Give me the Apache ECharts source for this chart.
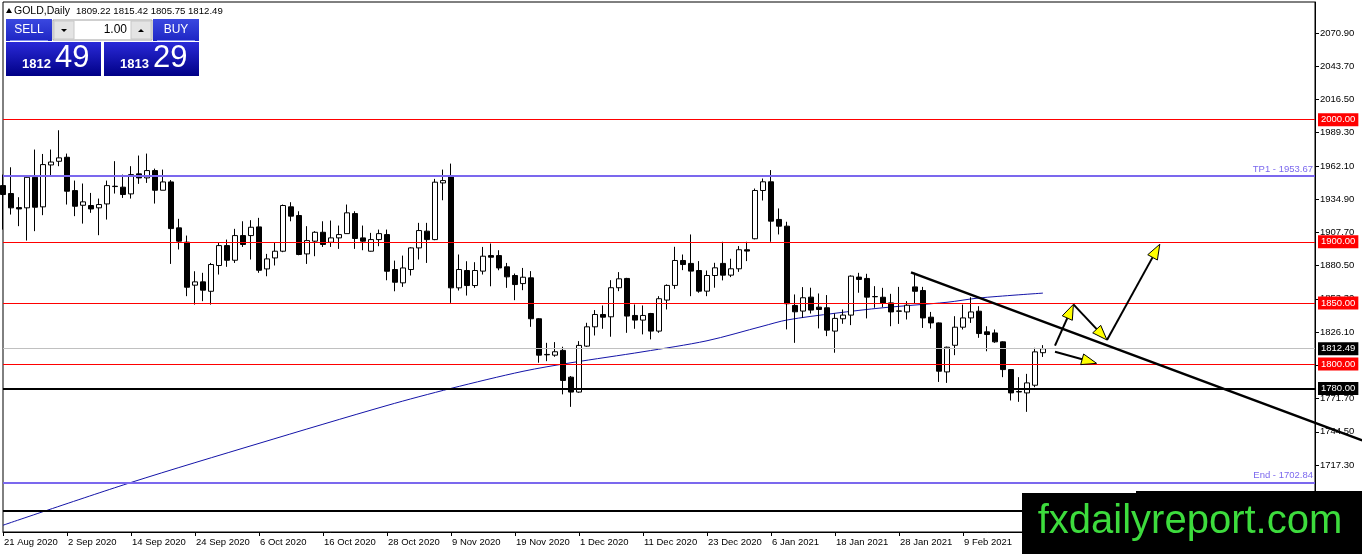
<!DOCTYPE html>
<html><head><meta charset="utf-8">
<script src="https://cdn.jsdelivr.net/npm/echarts@6/dist/echarts.min.js"></script>
<style>html,body{margin:0;padding:0;background:#fff}#c{width:1362px;height:554px}</style>
</head><body><div id="c"></div>
<script>
// ---- data ----
const tickLabels = ['21 Aug 2020','2 Sep 2020','14 Sep 2020','24 Sep 2020','6 Oct 2020','16 Oct 2020','28 Oct 2020','9 Nov 2020','19 Nov 2020','1 Dec 2020','11 Dec 2020','23 Dec 2020','6 Jan 2021','18 Jan 2021','28 Jan 2021','9 Feb 2021'];
const yTicks = [1717.3,1744.5,1771.7,1798.9,1826.1,1853.3,1880.5,1907.7,1934.9,1962.1,1989.3,2016.5,2043.7,2070.9];

const openP = [1946.0,1939.5,1928.0,1927.8,1952.8,1928.6,1962.9,1965.9,1969.2,1941.9,1929.9,1929.7,1927.8,1931.0,1945.5,1944.7,1939.2,1955.6,1952.3,1958.3,1942.2,1949.0,
1911.4,1899.7,1864.5,1867.2,1859.5,1880.6,1896.9,1884.9,1905.1,1905.1,1912.2,1877.8,1886.8,1892.3,1928.6,1921.5,1890.1,1900.5,1907.8,1899.6,1903.2,1906.7,
1923.1,1903.2,1892.3,1901.8,1905.9,1877.3,1866.4,1877.3,1895.0,1908.7,1901.8,1948.2,1953.1,1862.3,1876.5,1864.2,1876.0,1888.7,1888.7,1879.5,1872.4,1865.8,
1870.5,1837.0,1807.8,1807.2,1811.1,1789.2,1777.0,1814.6,1830.4,1840.5,1838.6,1862.4,1870.0,1839.7,1835.9,1841.3,1826.9,1852.3,1864.3,1884.7,1882.3,1876.5,
1859.6,1872.4,1882.3,1872.7,1877.9,1893.5,1902.5,1942.0,1949.1,1918.3,1912.8,1847.9,1843.3,1854.7,1846.5,1846.0,1826.9,1837.0,1840.0,1871.1,1870.0,1855.2,
1854.6,1850.0,1843.4,1842.6,1863.1,1860.1,1838.3,1833.6,1793.5,1815.3,1830.1,1837.7,1843.2,1826.3,1825.4,1818.1,1795.4,1777.4,1776.3,1782.6,1809.22];
const highP = [1955.0,1961.0,1936.5,1953.5,1975.5,1971.9,1975.5,1991.3,1972.2,1950.1,1947.7,1940.0,1935.4,1950.1,1966.0,1955.0,1961.9,1970.6,1972.2,1959.9,1959.1,1950.5,
1918.8,1905.1,1875.9,1874.6,1882.7,1899.1,1901.8,1910.6,1916.8,1917.7,1919.6,1890.1,1899.1,1930.5,1932.4,1925.0,1912.8,1908.7,1916.8,1917.4,1913.3,1930.5,
1925.0,1913.3,1907.3,1910.0,1910.0,1884.6,1888.7,1895.5,1915.5,1915.5,1951.5,1959.1,1964.0,1889.6,1884.1,1883.3,1895.8,1898.6,1893.1,1882.7,1874.0,1878.6,
1876.0,1837.5,1817.3,1817.9,1814.1,1790.1,1818.7,1833.7,1844.1,1847.9,1868.6,1875.2,1870.5,1848.7,1847.9,1841.8,1855.5,1865.1,1895.9,1889.6,1906.0,1884.2,
1876.5,1882.8,1900.0,1886.1,1896.5,1900.0,1943.6,1951.8,1958.7,1927.3,1916.4,1856.9,1862.9,1862.4,1857.7,1856.4,1841.3,1844.6,1872.5,1874.6,1873.8,1863.7,
1862.3,1857.4,1863.1,1851.4,1874.6,1863.1,1842.6,1834.0,1814.2,1839.1,1848.6,1854.6,1847.3,1830.9,1828.2,1818.5,1795.8,1789.2,1791.9,1813.2,1815.42];
const lowP = [1910.0,1922.3,1912.8,1901.0,1908.7,1921.8,1954.5,1961.9,1930.5,1921.0,1914.9,1923.7,1905.4,1918.2,1939.5,1935.9,1935.4,1947.4,1948.2,1931.3,1942.2,1881.9,
1893.7,1855.5,1848.6,1851.4,1848.6,1873.2,1879.5,1882.7,1895.8,1885.5,1874.6,1871.8,1880.6,1891.5,1916.8,1889.0,1881.9,1888.2,1895.8,1895.8,1894.2,1906.7,
1894.2,1893.1,1892.0,1896.4,1868.5,1859.5,1863.1,1872.4,1885.5,1882.7,1901.3,1934.0,1850.0,1860.1,1856.0,1862.3,1873.2,1863.6,1876.7,1862.3,1852.2,1860.4,
1830.4,1801.0,1802.3,1805.9,1775.1,1764.9,1776.4,1814.0,1823.3,1828.8,1822.3,1859.6,1825.5,1828.8,1824.2,1820.1,1825.5,1844.6,1861.5,1876.8,1855.5,1858.3,
1855.5,1862.4,1868.4,1871.1,1875.4,1884.2,1902.0,1933.8,1900.0,1906.0,1828.3,1817.3,1837.8,1841.3,1829.1,1822.8,1809.2,1832.9,1831.8,1858.3,1837.3,1846.0,
1846.5,1830.9,1832.8,1836.4,1849.2,1829.5,1829.0,1785.3,1784.5,1807.2,1828.2,1833.6,1821.4,1810.4,1817.3,1789.2,1770.1,1769.0,1760.8,1781.0,1805.75];
const closeP = [1938.7,1927.8,1926.9,1952.8,1928.3,1963.2,1965.3,1968.7,1941.4,1929.1,1932.7,1926.9,1930.5,1946.0,1945.2,1938.7,1955.0,1952.3,1958.3,1942.2,1949.0,1910.8,
1900.5,1862.8,1867.2,1860.4,1881.4,1896.9,1884.9,1905.1,1897.8,1911.9,1876.7,1886.0,1892.3,1929.7,1921.0,1889.6,1901.0,1907.8,1897.8,1903.2,1905.9,1923.7,
1902.7,1900.5,1901.8,1906.7,1875.9,1866.9,1878.6,1895.0,1909.2,1901.8,1948.8,1950.1,1862.3,1877.3,1864.2,1876.5,1888.2,1887.4,1878.6,1871.3,1865.0,1871.0,
1837.0,1807.2,1807.5,1810.0,1786.5,1777.0,1815.2,1830.4,1840.5,1838.3,1862.4,1869.7,1839.2,1835.9,1839.7,1826.9,1853.4,1864.3,1884.7,1881.4,1876.0,1859.6,
1872.4,1878.7,1872.7,1877.9,1893.5,1892.4,1942.0,1949.1,1916.9,1912.8,1849.3,1842.7,1854.2,1844.1,1844.6,1827.7,1837.3,1840.0,1871.9,1869.2,1854.7,1855.0,
1850.0,1842.6,1843.2,1848.1,1859.5,1837.7,1833.6,1794.1,1813.7,1830.1,1837.7,1842.6,1824.9,1824.1,1818.1,1795.4,1776.3,1777.1,1784.5,1809.9,1812.49];

// moving average, read at a few bars: [bar index, price]
const maPoints = [[0,1668],[16,1703],[32,1735],[48,1766],[56,1780],[65,1794],[71,1801],[80,1810],[88,1819],[95,1831],[98,1836],[104,1841.5],[110,1846],[118,1850.5],[122,1854],[130,1858]];

const redLevels = [2000, 1900, 1850, 1800];
const tp1Level = 1953.67;
const endLevel = 1702.84;
const blackLevels = [1780, 1680];
const currentPrice = 1812.49;
const headerValues = ['1809.22','1815.42','1805.75','1812.49'];
const sellPrice = ['1812','49'];
const buyPrice = ['1813','29'];
const lotSize = '1.00';

// drawn annotations, in [bar index, price]
const trendPts = [[113.5,1875.0],[169.9,1737.5]];
const arrowSegs = [
  [[131.5,1815.0],[133.8,1848.8]],
  [[133.8,1848.8],[138.0,1819.6]],
  [[138.0,1819.6],[144.6,1898.0]],
  [[131.5,1810.0],[136.7,1800.5]]
];

const NCAT = 165;
// ---- chart ----
const FONT = 'Liberation Sans';
const cats = Array.from({length: NCAT}, (_, i) => String(i));
const candles = openP.map((o, i) => [o, closeP[i], lowP[i], highP[i]]);

function boxLabel(text, bg) {
  return {show: true, position: 'end', distance: 3, formatter: text, color: '#fff',
    backgroundColor: bg, padding: [2, 3, 1, 3], fontSize: 9.5, fontFamily: FONT};
}
function levelSeries(items) {
  return {type: 'line', data: [], silent: true, z: 2,
    markLine: {silent: true, symbol: ['none', 'none'], animation: false, data: items}};
}
const redItems = redLevels.map(v => ({yAxis: v, lineStyle: {color: '#ff0000', width: 1, type: 'solid', opacity: 1}, label: boxLabel(v.toFixed(2), '#ff0000')}));
const blueItems = [
  {yAxis: tp1Level, lineStyle: {color: '#7b68ee', width: 2, type: 'solid'},
    label: {show: true, position: 'insideEndTop', distance: 2, formatter: 'TP1 - ' + tp1Level.toFixed(2), color: '#7b68ee', fontSize: 9.5, fontFamily: FONT}},
  {yAxis: endLevel, lineStyle: {color: '#7b68ee', width: 2, type: 'solid'},
    label: {show: true, position: 'insideEndTop', distance: 2, formatter: 'End - ' + endLevel.toFixed(2), color: '#7b68ee', fontSize: 9.5, fontFamily: FONT}}
];
const otherItems = [{yAxis: currentPrice, lineStyle: {color: '#c0c0c0', width: 1, type: 'solid'}, label: boxLabel(currentPrice.toFixed(2), '#000')}]
  .concat(blackLevels.map((v, i) => ({yAxis: v, lineStyle: {color: '#000', width: 2, type: 'solid'},
    label: i === 0 ? boxLabel(v.toFixed(2), '#000') : {show: false}})));

const tickFn = (idx) => idx % 8 === 0 && idx / 8 < tickLabels.length;

const chart = echarts.init(document.getElementById('c'));
chart.setOption({
  animation: false,
  backgroundColor: '#fff',
  grid: {left: 3, right: 47, top: 2, bottom: 22, show: true, borderColor: '#000', borderWidth: 1, backgroundColor: '#fff'},
  xAxis: {
    type: 'category', data: cats, boundaryGap: false,
    axisLine: {show: true, lineStyle: {color: '#000', width: 1}},
    axisTick: {show: true, interval: tickFn, length: 4, lineStyle: {color: '#000'}},
    axisLabel: {interval: tickFn, formatter: (v, idx) => tickLabels[idx / 8], align: 'left', margin: 5,
      color: '#000', fontSize: 9.5, fontFamily: FONT, padding: [0, 0, 0, 1]},
    splitLine: {show: false}
  },
  yAxis: {
    type: 'value', position: 'right', min: 1662.46, max: 2096.28, scale: true,
    axisLine: {show: true, lineStyle: {color: '#000', width: 1}},
    axisTick: {show: true, customValues: yTicks, length: 4, lineStyle: {color: '#000'}},
    axisLabel: {customValues: yTicks, formatter: v => v.toFixed(2), margin: 5, color: '#000', fontSize: 9.5, fontFamily: FONT},
    splitLine: {show: false}
  },
  series: [
    levelSeries(redItems),
    levelSeries(blueItems),
    levelSeries(otherItems),
    {type: 'line', data: maPoints, smooth: 0.3, showSymbol: false, symbol: 'none',
      lineStyle: {color: '#1414a8', width: 1}, z: 3, silent: true},
    {type: 'candlestick', data: candles, barWidth: 5, z: 4,
      itemStyle: {color: '#fff', color0: '#000', borderColor: '#000', borderColor0: '#000', borderWidth: 1}}
  ]
});

function px(idx, price) {
  const p0 = chart.convertToPixel({gridIndex: 0}, [0, price]);
  const p1 = chart.convertToPixel({gridIndex: 0}, [1, price]);
  return [p0[0] + idx * (p1[0] - p0[0]), p0[1]];
}

const G = [];
// trend line
const t0 = px(trendPts[0][0], trendPts[0][1]), t1 = px(trendPts[1][0], trendPts[1][1]);
G.push({type: 'line', shape: {x1: t0[0], y1: t0[1], x2: t1[0], y2: t1[1]}, style: {stroke: '#000', lineWidth: 2.5}, z: 50});
// arrows
arrowSegs.forEach(seg => {
  const a = px(seg[0][0], seg[0][1]), b = px(seg[1][0], seg[1][1]);
  const dx = b[0] - a[0], dy = b[1] - a[1], L = Math.hypot(dx, dy);
  const ux = dx / L, uy = dy / L, hl = 15, hw = 5.5;
  const bx = b[0] - ux * hl, by = b[1] - uy * hl;
  G.push({type: 'line', shape: {x1: a[0], y1: a[1], x2: bx, y2: by}, style: {stroke: '#000', lineWidth: 2}, z: 51});
  G.push({type: 'polygon', shape: {points: [[b[0], b[1]], [bx - uy * hw, by + ux * hw], [bx + uy * hw, by - ux * hw]]},
    style: {fill: '#ffff00', stroke: '#000', lineWidth: 1}, z: 52});
});
// header
G.push({type: 'polygon', shape: {points: [[6, 13], [12, 13], [9, 8]]}, style: {fill: '#000'}, z: 60});
G.push({type: 'text', x: 14, y: 11, style: {text: 'GOLD,Daily', fill: '#000', font: '10.5px ' + FONT, verticalAlign: 'middle'}, z: 60});
G.push({type: 'text', x: 76, y: 11, style: {text: headerValues.join(' '), fill: '#000', font: '9.6px ' + FONT, verticalAlign: 'middle'}, z: 60});
// one-click panel
const btnFill = new echarts.graphic.LinearGradient(0, 0, 0, 1, [{offset: 0, color: '#3a48e0'}, {offset: 1, color: '#1e26c4'}]);
const bigFill = new echarts.graphic.LinearGradient(0, 0, 0, 1, [{offset: 0, color: '#2a2ad8'}, {offset: 1, color: '#000086'}]);
G.push({type: 'rect', shape: {x: 6, y: 19, width: 46, height: 22}, style: {fill: btnFill}, z: 60});
G.push({type: 'rect', shape: {x: 153, y: 19, width: 46, height: 22}, style: {fill: btnFill}, z: 60});
G.push({type: 'line', shape: {x1: 10, y1: 40.5, x2: 48, y2: 40.5}, style: {stroke: '#7f8cf0', lineWidth: 1}, z: 61});
G.push({type: 'line', shape: {x1: 157, y1: 40.5, x2: 195, y2: 40.5}, style: {stroke: '#7f8cf0', lineWidth: 1}, z: 61});
G.push({type: 'text', x: 29, y: 30, style: {text: 'SELL', fill: '#fff', font: '12px ' + FONT, align: 'center', verticalAlign: 'middle'}, z: 61});
G.push({type: 'text', x: 176, y: 30, style: {text: 'BUY', fill: '#fff', font: '12px ' + FONT, align: 'center', verticalAlign: 'middle'}, z: 61});
G.push({type: 'rect', shape: {x: 53, y: 20, width: 99, height: 20}, style: {fill: '#fff', stroke: '#a0a0a0', lineWidth: 1}, z: 60});
G.push({type: 'rect', shape: {x: 54, y: 21, width: 20, height: 18}, style: {fill: '#e4e4e4', stroke: '#c8c8c8', lineWidth: 1}, z: 61});
G.push({type: 'rect', shape: {x: 131, y: 21, width: 20, height: 18}, style: {fill: '#e4e4e4', stroke: '#c8c8c8', lineWidth: 1}, z: 61});
G.push({type: 'polygon', shape: {points: [[61, 29], [67, 29], [64, 32]]}, style: {fill: '#000'}, z: 62});
G.push({type: 'polygon', shape: {points: [[138, 32], [144, 32], [141, 29]]}, style: {fill: '#000'}, z: 62});
G.push({type: 'text', x: 127, y: 30, style: {text: lotSize, fill: '#000', font: '12px ' + FONT, align: 'right', verticalAlign: 'middle'}, z: 62});
G.push({type: 'rect', shape: {x: 6, y: 42, width: 95, height: 34}, style: {fill: bigFill}, z: 60});
G.push({type: 'rect', shape: {x: 104, y: 42, width: 95, height: 34}, style: {fill: bigFill}, z: 60});
G.push({type: 'text', x: 51, y: 71, style: {text: sellPrice[0], fill: '#fff', font: 'bold 13px ' + FONT, align: 'right', verticalAlign: 'bottom'}, z: 61});
G.push({type: 'text', x: 55, y: 74, style: {text: sellPrice[1], fill: '#fff', font: '31px ' + FONT, align: 'left', verticalAlign: 'bottom'}, z: 61});
G.push({type: 'text', x: 149, y: 71, style: {text: buyPrice[0], fill: '#fff', font: 'bold 13px ' + FONT, align: 'right', verticalAlign: 'bottom'}, z: 61});
G.push({type: 'text', x: 153, y: 74, style: {text: buyPrice[1], fill: '#fff', font: '31px ' + FONT, align: 'left', verticalAlign: 'bottom'}, z: 61});
// watermark
G.push({type: 'rect', shape: {x: 1022, y: 493, width: 340, height: 61}, style: {fill: '#000'}, z: 90});
G.push({type: 'rect', shape: {x: 1136, y: 491, width: 226, height: 4}, style: {fill: '#000'}, z: 90});
G.push({type: 'text', x: 1190, y: 522, style: {text: 'fxdailyreport.com', fill: '#3ddc3d', font: '40px ' + FONT, align: 'center', verticalAlign: 'middle'}, z: 91});

chart.setOption({graphic: {elements: G}});
</script>
</body></html>
